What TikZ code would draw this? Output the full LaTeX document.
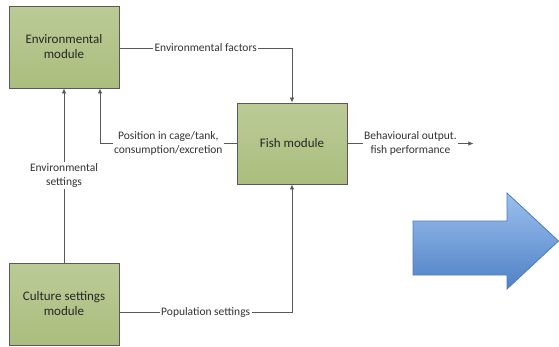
\documentclass[tikz,border=0pt]{standalone}
\usepackage{fontspec}
\setmainfont{Carlito}
\usetikzlibrary{arrows.meta,calc}
\definecolor{modtop}{HTML}{BCCB97}
\definecolor{modbot}{HTML}{ABBD7E}
\definecolor{bigtop}{HTML}{9CC0EE}
\definecolor{bigbot}{HTML}{4F81C6}
\definecolor{bigline}{HTML}{4A7EBB}

\begin{document}
\begin{tikzpicture}[x=1pt,y=-1pt,
    module/.style={draw=black!65,line width=0.9pt,top color=modtop,bottom color=modbot,
      minimum width=110pt,minimum height=82pt,align=center,text=black!85,
      font=\fontsize{13}{15}\selectfont},
    flow/.style={draw=black!65,line width=0.7pt,-{Latex[length=5pt,width=4.5pt]}},
    lbl/.style={fill=white,inner sep=1.5pt,align=center,text=black!80,
      font=\fontsize{11.5}{14}\selectfont}]
      \useasboundingbox (0,0) rectangle (559,346);

      \node[module] (env) at (64,47) {Environmental\\module};
      \node[module,minimum height=81pt] (fish) at (292,143.5) {Fish module};
      \node[module] (cult) at (64,304) {Culture settings\\module};
      \coordinate (envin) at ($(env.south)+(36,0)$);
      \coordinate (out) at ($(fish.east)+(126,0)$);

      \draw[flow] ($(env.east)+(0,1)$) -| node[lbl,pos=0.25] {Environmental factors} (fish.north);
      \draw[flow] (cult.north) -- node[lbl] {Environmental\\settings} (env.south);
      \draw[flow] (fish.west) -| node[lbl,pos=0.25] {Position in cage/tank,\\consumption/excretion} (envin);
      \draw[flow] ($(cult.east)+(0,8)$) -| node[lbl,pos=0.25] {Population settings} (fish.south);
      \draw[flow] (fish.east) -- node[lbl] {Behavioural output.\\fish performance} (out);

      % big arrow
      \draw[bigline,line width=0.8pt,top color=bigtop,bottom color=bigbot]
        (413,221) -- (507,221) -- (507,193) -- (558.5,241) -- (507,289) -- (507,275) -- (413,275) -- cycle;
    \end{tikzpicture}
\end{document}
